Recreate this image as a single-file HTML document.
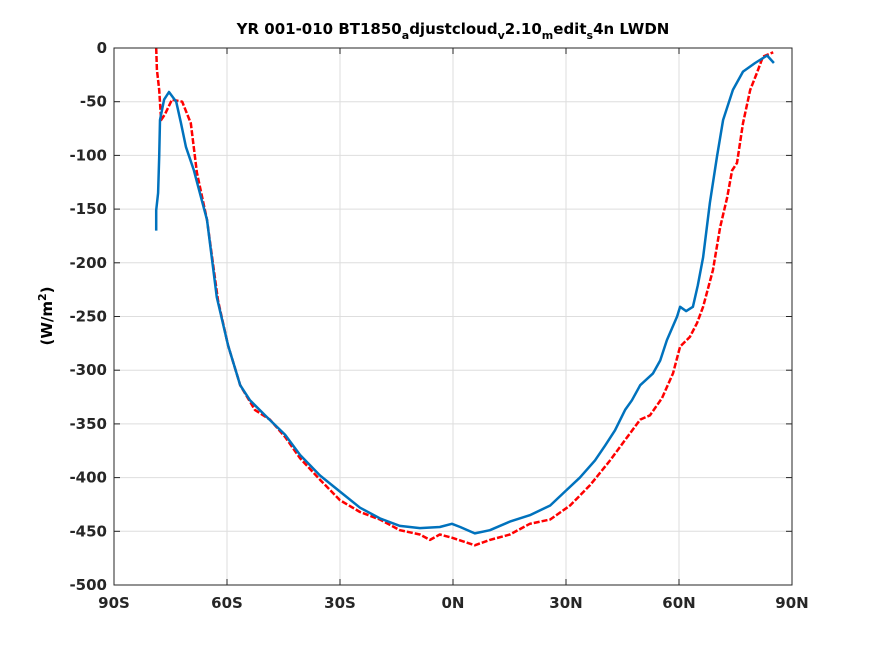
<!DOCTYPE html>
<html><head><meta charset="utf-8"><style>
body{margin:0;background:#fff}
svg{display:block;font-family:"DejaVu Sans","Liberation Sans",sans-serif}
</style></head><body>
<svg id="chart" width="875" height="656">
<rect width="875" height="656" fill="#fff"/>
<g id="grid"></g>
<g id="series"></g>
<rect x="114" y="48" width="678" height="537" fill="none" stroke="#262626" stroke-width="1"/>
<g id="ticks"></g>
<text x="453" y="34" text-anchor="middle" font-size="15" font-weight="bold" fill="#000">YR 001-010 BT1850<tspan font-size="11" dy="5">a</tspan><tspan dy="-5">djustcloud</tspan><tspan font-size="11" dy="5">v</tspan><tspan dy="-5">2.10</tspan><tspan font-size="11" dy="5">m</tspan><tspan dy="-5">edit</tspan><tspan font-size="11" dy="5">s</tspan><tspan dy="-5">4n LWDN</tspan></text>
<text transform="translate(52,316) rotate(-90)" text-anchor="middle" font-size="15" font-weight="bold">(W/m<tspan font-size="11" dy="-6">2</tspan><tspan dy="6">)</tspan></text>
</svg>
<script>
const xTickValues=[-90,-60,-30,0,30,60,90];
const xTickLabels=["90S","60S","30S","0N","30N","60N","90N"];
const yTickValues=[0,-50,-100,-150,-200,-250,-300,-350,-400,-450,-500];
const blueLat=[-78.8,-78.8,-78.3,-78.0,-77.8,-76.7,-75.4,-73.5,-72.2,-70.9,-68.8,-66.9,-65.3,-62.7,-59.7,-56.5,-53.9,-49.9,-44.6,-40.6,-35.3,-30.0,-24.7,-19.4,-14.1,-8.8,-3.5,-0.3,1.9,5.8,9.8,15.1,20.4,25.8,29.7,33.7,37.7,40.4,43.0,45.7,47.5,49.7,53.1,55.0,56.8,59.5,60.3,61.9,63.7,65.0,66.4,68.2,70.1,71.7,74.3,77.0,80.2,83.4,85.2];
const blueVal=[-170,-151,-135,-101,-67,-48,-41,-50,-70,-92,-114,-139,-160,-232,-277,-314,-328,-342,-360,-379,-398,-413,-428,-438,-445,-447,-446,-443,-446,-452,-449,-441,-435,-426,-413,-400,-384,-370,-356,-337,-328,-314,-303,-291,-272,-250,-241,-245,-241,-221,-195,-144,-101,-67,-39,-22,-14,-7,-14];
const redLat=[-78.8,-78.6,-78.0,-77.5,-76.5,-74.6,-71.9,-69.6,-68.0,-65.3,-62.4,-59.7,-56.5,-52.6,-48.6,-44.6,-40.6,-35.3,-30.0,-24.7,-19.4,-14.1,-8.8,-6.1,-3.5,-0.3,3.2,5.8,9.8,15.1,20.4,25.8,31.1,36.4,41.7,45.7,49.7,52.3,55.5,58.4,60.3,62.9,64.8,66.4,69.0,70.9,72.8,74.1,75.4,77.0,78.9,80.7,82.3,85.0];
const redVal=[0,-20,-39,-67,-62,-48,-50,-70,-116,-160,-235,-277,-314,-337,-346,-362,-382,-402,-421,-432,-439,-449,-453,-458,-453,-456,-460,-463,-458,-453,-443,-439,-426,-407,-384,-365,-346,-342,-326,-303,-278,-269,-256,-241,-207,-167,-139,-114,-107,-70,-39,-23,-8,-4];

const NS="http://www.w3.org/2000/svg";
const X0=114,X1=792,Y0=48,Y1=585;
function xs(v){return X0+(v+90)/180*(X1-X0);}
function ys(v){return Y0+(0-v)/500*(Y1-Y0);}
function mk(tag,attrs,parent){const e=document.createElementNS(NS,tag);for(const k in attrs)e.setAttribute(k,attrs[k]);parent.appendChild(e);return e;}
const grid=document.getElementById('grid'),ticks=document.getElementById('ticks'),series=document.getElementById('series');
xTickValues.forEach((v,i)=>{
  const x=xs(v);
  const g=mk('line',{x1:x,x2:x,y1:Y0,y2:Y1,stroke:'#dedede','stroke-width':1},grid);
  
  
  const t=mk('line',{x1:x,x2:x,y1:Y1,y2:Y1-6,stroke:'#262626'},ticks);
  
  
  const t2=mk('line',{x1:x,x2:x,y1:Y0,y2:Y0+6,stroke:'#262626'},ticks);
  
  
  const l=mk('text',{x:x,y:Y1+23,'text-anchor':'middle','font-size':15,'font-weight':'bold',fill:'#262626'},ticks);
  l.textContent=xTickLabels[i];
  
  
});
yTickValues.forEach(v=>{
  const y=ys(v);
  const g=mk('line',{x1:X0,x2:X1,y1:y,y2:y,stroke:'#dedede','stroke-width':1},grid);
  
  
  const t=mk('line',{x1:X0,x2:X0+6,y1:y,y2:y,stroke:'#262626'},ticks);
  
  
  const t2=mk('line',{x1:X1,x2:X1-6,y1:y,y2:y,stroke:'#262626'},ticks);
  
  
  const l=mk('text',{x:X0-7,y:y+5,'text-anchor':'end','font-size':15,'font-weight':'bold',fill:'#262626'},ticks);
  l.textContent=String(v);
  
  
});
function pts(la,va){return la.map((v,i)=>xs(v).toFixed(1)+','+ys(va[i]).toFixed(1)).join(' ');}
const red=mk('polyline',{points:pts(redLat,redVal),fill:'none',stroke:'#ff0000','stroke-width':2.5,'stroke-dasharray':'6,2','stroke-linejoin':'round'},series);


const blue=mk('polyline',{points:pts(blueLat,blueVal),fill:'none',stroke:'#0072bd','stroke-width':2.5,'stroke-linejoin':'round'},series);


</script>
</body></html>
